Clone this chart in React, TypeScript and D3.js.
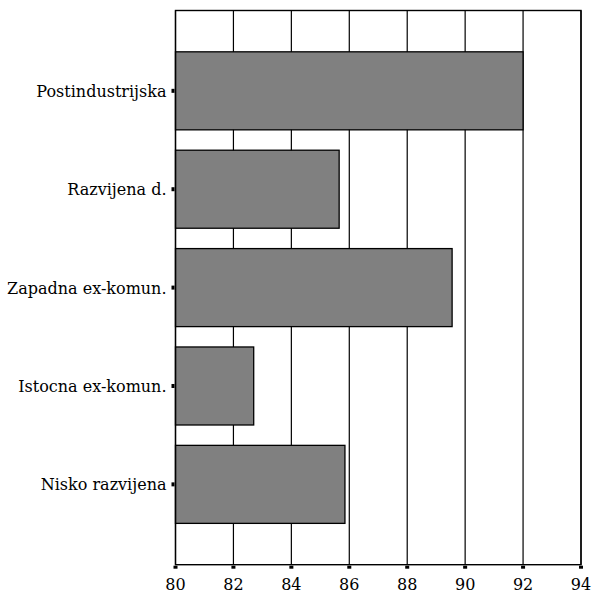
import * as d3 from "d3";
import React from "react";

const categories = [
  "Postindustrijska",
  "Razvijena d.",
  "Zapadna ex-komun.",
  "Istocna ex-komun.",
  "Nisko razvijena",
];
const values = [92.0, 85.65, 89.55, 82.7, 85.85];
const xTicks = [80, 82, 84, 86, 88, 90, 92, 94];

const App: React.FC = (): React.ReactElement => {
  const ref = React.useRef<SVGSVGElement>(null);

  React.useEffect(() => {
    const svg = d3.select(ref.current);
    svg.selectAll("*").remove();

    const margin = { left: 175.5, right: 12, top: 10.5, bottom: 28.3 };
    const width = 593;
    const height = 593;

    const x = d3
      .scaleLinear()
      .domain([80, 94])
      .range([margin.left, width - margin.right]);
    const y = d3
      .scaleBand()
      .domain(categories)
      .range([margin.top, height - margin.bottom])
      .paddingInner(0.207)
      .paddingOuter(0.42);

    // grid lines
    svg
      .append("g")
      .selectAll("line")
      .data(xTicks)
      .enter()
      .append("line")
      .attr("x1", (d) => x(d))
      .attr("x2", (d) => x(d))
      .attr("y1", margin.top)
      .attr("y2", height - margin.bottom)
      .attr("stroke", "#000")
      .attr("stroke-width", 1.2);

    // bars
    svg
      .append("g")
      .selectAll("rect")
      .data(values)
      .enter()
      .append("rect")
      .attr("x", x(80))
      .attr("y", (d, i) => y(categories[i]) as number)
      .attr("width", (d) => x(d) - x(80))
      .attr("height", y.bandwidth())
      .attr("fill", "#808080")
      .attr("stroke", "#000")
      .attr("stroke-width", 1.3);

    // plot border
    svg
      .append("rect")
      .attr("x", x(80))
      .attr("y", margin.top)
      .attr("width", x(94) - x(80))
      .attr("height", height - margin.bottom - margin.top)
      .attr("fill", "none")
      .attr("stroke", "#000")
      .attr("stroke-width", 1.4);

    // x tick marks + labels
    const xt = svg.append("g");
    xt.selectAll("rect")
      .data(xTicks)
      .enter()
      .append("rect")
      .attr("x", (d) => x(d) - 2)
      .attr("y", height - margin.bottom + 1)
      .attr("width", 4)
      .attr("height", 3)
      .attr("fill", "#000");
    xt.selectAll("text")
      .data(xTicks)
      .enter()
      .append("text")
      .attr("x", (d) => x(d))
      .attr("y", 590)
      .attr("text-anchor", "middle")
      .text((d) => d);

    // y tick marks + labels
    const yt = svg.append("g");
    yt.selectAll("rect")
      .data(categories)
      .enter()
      .append("rect")
      .attr("x", margin.left - 4)
      .attr("y", (d) => (y(d) as number) + y.bandwidth() / 2 - 2)
      .attr("width", 3)
      .attr("height", 4)
      .attr("fill", "#000");
    yt.selectAll("text")
      .data(categories)
      .enter()
      .append("text")
      .attr("x", margin.left - 9)
      .attr("y", (d) => (y(d) as number) + y.bandwidth() / 2 + 6)
      .attr("text-anchor", "end")
      .text((d) => d);
  }, []);

  return (
    <svg
      ref={ref}
      width={593}
      height={593}
      fontFamily="'DejaVu Serif'"
      fontSize={16}
      style={{ position: "absolute", left: 0, top: 0, background: "#fff" }}
    ></svg>
  );
};

export default App;
